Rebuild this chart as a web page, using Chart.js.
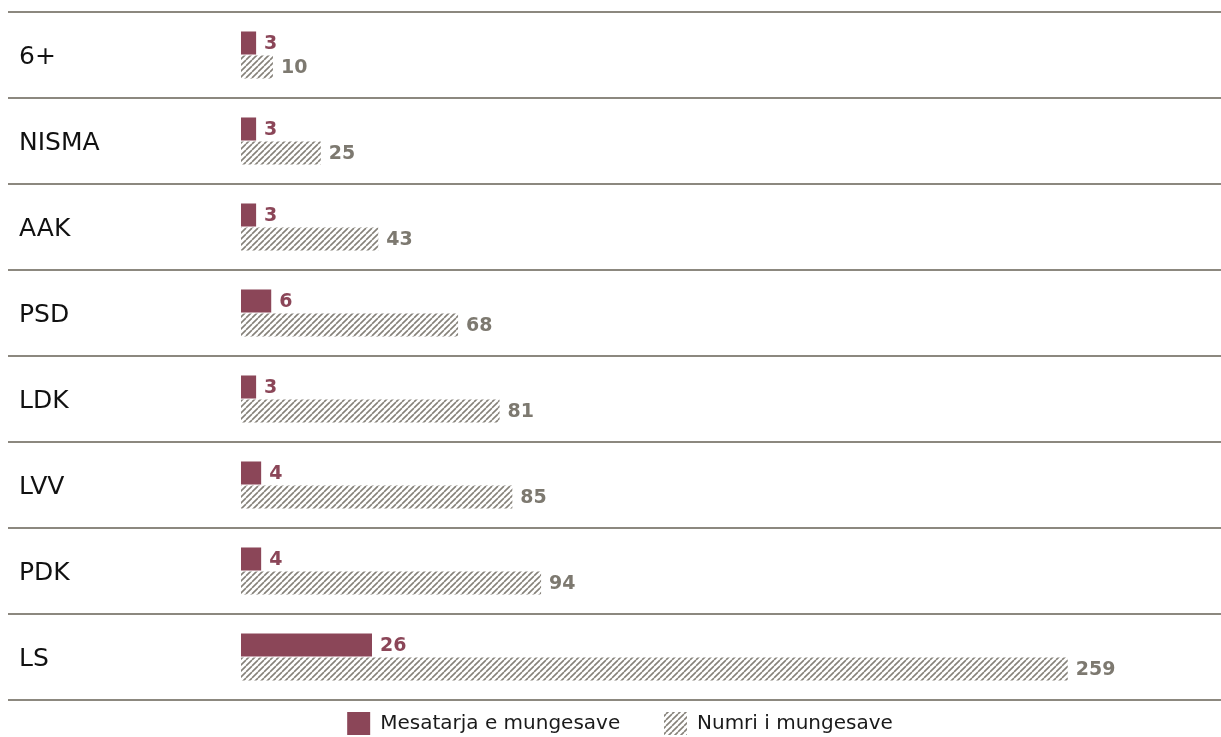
<!DOCTYPE html>
<html>
<head>
<meta charset="utf-8">
<script src="https://cdn.jsdelivr.net/npm/chart.js@4"></script>
<style>
  html, body { margin: 0; padding: 0; background: #ffffff; }
  #wrap { width: 1221px; height: 737px; position: relative; }
</style>
</head>
<body>
<div id="wrap"><canvas id="c"></canvas></div>
<script>
// ---- data ----
const parties = ['6+', 'NISMA', 'AAK', 'PSD', 'LDK', 'LVV', 'PDK', 'LS'];
const averageAbsences = [3, 3, 3, 6, 3, 4, 4, 26];
const totalAbsences = [10, 25, 43, 68, 81, 85, 94, 259];
const seriesNames = ['Mesatarja e mungesave', 'Numri i mungesave'];

// ---- styles ----
const MAROON = '#8b4658';
const HATCH_GRAY = '#86827a';
const LABEL_GRAY = '#7d7970';
const RULE = '#8c887f';
const FONT = '"DejaVu Sans", "Noto Sans", sans-serif';

function makeHatch() {
  const s = 6;
  const cv = document.createElement('canvas');
  cv.width = s; cv.height = s;
  const g = cv.getContext('2d');
  g.fillStyle = '#ffffff';
  g.fillRect(0, 0, s, s);
  g.strokeStyle = HATCH_GRAY;
  g.lineWidth = 1.6;
  g.beginPath();
  for (let c = -s; c <= s; c += s) {
    g.moveTo(c, s);
    g.lineTo(c + s, 0);
  }
  g.stroke();
  return g.createPattern(cv, 'repeat');
}
const hatch = makeHatch();

const valueLabels = {
  id: 'valueLabels',
  afterDatasetsDraw(chart) {
    const ctx = chart.ctx;
    ctx.save();
    ctx.font = 'bold 19px ' + FONT;
    ctx.textBaseline = 'middle';
    ctx.textAlign = 'left';
    chart.data.datasets.forEach((ds, di) => {
      const meta = chart.getDatasetMeta(di);
      ctx.fillStyle = di === 0 ? MAROON : LABEL_GRAY;
      meta.data.forEach((bar, i) => {
        ctx.fillText(String(ds.data[i]), bar.x + 8, bar.y + 1);
      });
    });
    ctx.restore();
  }
};

new Chart(document.getElementById('c'), {
  type: 'bar',
  data: {
    labels: parties,
    datasets: [
      {
        label: seriesNames[0] + '     ',
        data: averageAbsences,
        backgroundColor: MAROON,
        borderWidth: 0,
        xAxisID: 'xAvg',
        categoryPercentage: 0.558,
        barPercentage: 0.96
      },
      {
        label: seriesNames[1],
        data: totalAbsences,
        backgroundColor: hatch,
        borderWidth: 0,
        xAxisID: 'xNum',
        categoryPercentage: 0.558,
        barPercentage: 0.96
      }
    ]
  },
  options: {
    indexAxis: 'y',
    responsive: true,
    maintainAspectRatio: false,
    animation: false,
    layout: { padding: { left: 19, top: 12, right: 0, bottom: -8 } },
    scales: {
      y: {
        type: 'category',
        offset: true,
        border: { display: false },
        grid: {
          offset: true,
          color: RULE,
          lineWidth: 2,
          drawTicks: true,
          tickLength: 233
        },
        ticks: {
          crossAlign: 'far',
          padding: 0,
          labelOffset: 2,
          color: '#111111',
          font: { family: FONT, size: 25 }
        },
        afterFit(scale) {
          scale.width = 222;
          scale.paddingTop = 0;
          scale.paddingBottom = 0;
        }
      },
      xAvg: {
        type: 'linear',
        position: 'bottom',
        display: false,
        min: 0,
        max: 194.5
      },
      xNum: {
        type: 'linear',
        position: 'bottom',
        display: false,
        min: 0,
        max: 307
      }
    },
    plugins: {
      legend: {
        position: 'bottom',
        align: 'center',
        labels: {
          boxWidth: 23,
          boxHeight: 23,
          padding: 12,
          color: '#1a1a1a',
          font: { family: FONT, size: 20 }
        }
      },
      tooltip: { enabled: false },
      title: { display: false }
    }
  },
  plugins: [valueLabels]
});
</script>
</body>
</html>
